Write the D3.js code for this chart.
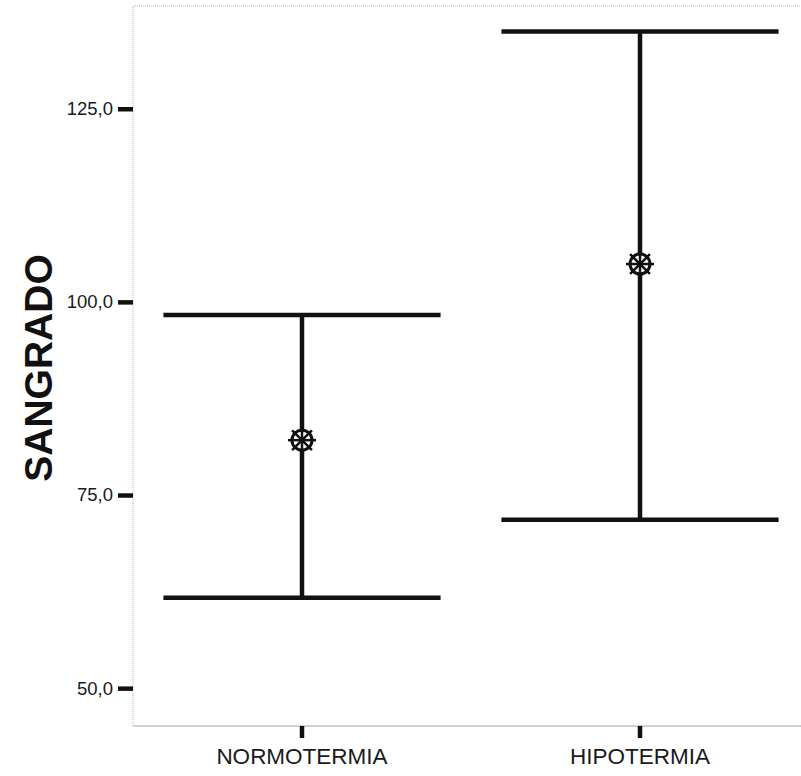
<!DOCTYPE html>
<html lang="en">
<head>
<meta charset="UTF-8">
<title>Sangrado</title>
<script src="https://d3js.org/d3.v7.min.js"></script>
<style>
  body { margin: 0; background: #fff; font-family: Arial, "Liberation Sans", sans-serif; }
  svg { display: block; }
</style>
</head>
<body>
<svg id="chart"></svg>
<script>
  // data
  const groups = ["NORMOTERMIA", "HIPOTERMIA"];
  const means = [82.1, 104.9];
  const lower = [61.7, 71.8];
  const upper = [98.3, 135.0];
  const yTicks = [50, 75, 100, 125];

  const width = 801, height = 776;
  const margin = { top: 6, right: -8, bottom: 50, left: 133 };
  const innerW = width - margin.left - margin.right;
  const innerH = height - margin.top - margin.bottom;

  const svg = d3.select("#chart").attr("width", width).attr("height", height);
  const g = svg.append("g").attr("transform", `translate(${margin.left},${margin.top})`);

  const x = d3.scaleBand().domain(groups).range([0, innerW]).padding(0);
  const y = d3.scaleLinear().domain([45.1, 138.3]).range([innerH, 0]);

  // frame
  g.append("rect")
    .attr("width", innerW).attr("height", innerH)
    .attr("fill", "none").attr("stroke", "#b5b5b5")
    .attr("stroke-width", 1).attr("stroke-dasharray", "1,1");
  g.append("line")
    .attr("x1", 0).attr("x2", innerW).attr("y1", innerH).attr("y2", innerH)
    .attr("stroke", "#c8c8c8").attr("stroke-width", 1.5);

  // y axis
  const yAxis = g.append("g")
    .call(d3.axisLeft(y).tickValues(yTicks).tickSize(15).tickPadding(5)
      .tickFormat(d => d3.format(".1f")(d).replace(".", ",")));
  yAxis.select(".domain").remove();
  yAxis.selectAll(".tick line").attr("stroke", "#111").attr("stroke-width", 4.5);
  yAxis.selectAll("text").attr("font-size", 18.5).attr("fill", "#1a1a1a")
    .attr("font-family", "Arial, 'Liberation Sans', sans-serif");

  // x axis
  const xAxis = g.append("g").attr("transform", `translate(0,${innerH})`)
    .call(d3.axisBottom(x).tickSize(12).tickPadding(10));
  xAxis.select(".domain").remove();
  xAxis.selectAll(".tick line").attr("stroke", "#111").attr("stroke-width", 4.5);
  xAxis.selectAll("text").attr("font-size", 22.5).attr("fill", "#1a1a1a")
    .attr("font-family", "Arial, 'Liberation Sans', sans-serif");

  // y title
  svg.append("text")
    .attr("transform", `translate(52,${margin.top + innerH / 2 + 2}) rotate(-90)`)
    .attr("text-anchor", "middle")
    .attr("font-size", 39).attr("font-weight", "bold").attr("fill", "#111")
    .attr("font-family", "Arial, 'Liberation Sans', sans-serif")
    .text("SANGRADO");

  // error bars
  const capHalf = x.bandwidth() * 0.41;
  const bars = g.selectAll(".bar").data(groups).join("g")
    .attr("class", "bar")
    .attr("transform", d => `translate(${x(d) + x.bandwidth() / 2},0)`);

  bars.append("line")
    .attr("y1", (d, i) => y(lower[i])).attr("y2", (d, i) => y(upper[i]))
    .attr("stroke", "#111").attr("stroke-width", 4.5);
  bars.append("line")
    .attr("x1", -capHalf).attr("x2", capHalf)
    .attr("y1", (d, i) => y(upper[i])).attr("y2", (d, i) => y(upper[i]))
    .attr("stroke", "#111").attr("stroke-width", 4.5);
  bars.append("line")
    .attr("x1", -capHalf).attr("x2", capHalf)
    .attr("y1", (d, i) => y(lower[i])).attr("y2", (d, i) => y(lower[i]))
    .attr("stroke", "#111").attr("stroke-width", 4.5);

  // mean markers: circle with spokes
  const marker = bars.append("g")
    .attr("transform", (d, i) => `translate(0,${y(means[i])})`);
  marker.append("circle").attr("r", 10)
    .attr("fill", "#fff").attr("stroke", "#111").attr("stroke-width", 3);
  marker.selectAll("line").data(d3.range(8)).join("line")
    .attr("x1", 0).attr("y1", 0)
    .attr("x2", k => 14 * Math.cos(k * Math.PI / 4))
    .attr("y2", k => 14 * Math.sin(k * Math.PI / 4))
    .attr("stroke", "#111").attr("stroke-width", 2.5);
</script>
</body>
</html>
